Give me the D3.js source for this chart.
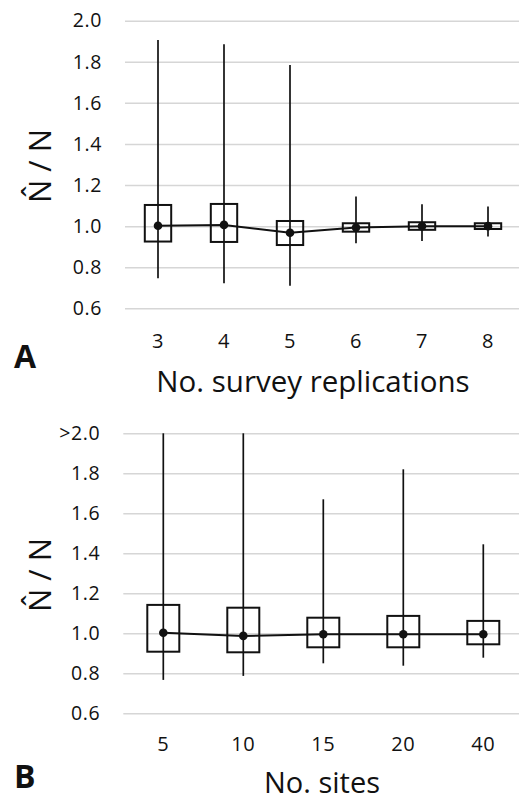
<!DOCTYPE html>
<html>
<head>
<meta charset="utf-8">
<script src="https://cdn.jsdelivr.net/npm/d3@7"></script>
<style>
  html, body { margin: 0; padding: 0; background: #fff; }
  svg { display: block; font-family: "Open Sans", sans-serif; }
</style>
</head>
<body>
<svg id="chart" width="519" height="802"></svg>
<script>
// ---- Data ----
const yTickValues = [0.6, 0.8, 1.0, 1.2, 1.4, 1.6, 1.8, 2.0];
const topYTickLabels = ["0.6", "0.8", "1.0", "1.2", "1.4", "1.6", "1.8", "2.0"];
const bottomYTickLabels = ["0.6", "0.8", "1.0", "1.2", "1.4", "1.6", "1.8", ">2.0"];

const topCategories = ["3", "4", "5", "6", "7", "8"];
const topMean = [1.002, 1.006, 0.968, 0.993, 1.0, 1.0];
const topBoxLow = [0.925, 0.923, 0.908, 0.973, 0.982, 0.986];
const topBoxHigh = [1.103, 1.108, 1.025, 1.014, 1.019, 1.014];
const topWhiskerLow = [0.746, 0.722, 0.710, 0.917, 0.928, 0.949];
const topWhiskerHigh = [1.906, 1.885, 1.784, 1.144, 1.107, 1.095];

const bottomCategories = ["5", "10", "15", "20", "40"];
const bottomMean = [1.003, 0.987, 0.995, 0.995, 0.995];
const bottomBoxLow = [0.908, 0.905, 0.930, 0.930, 0.945];
const bottomBoxHigh = [1.142, 1.128, 1.078, 1.087, 1.062];
const bottomWhiskerLow = [0.767, 0.787, 0.850, 0.838, 0.878];
const bottomWhiskerHigh = [2.0, 2.0, 1.67, 1.82, 1.445]; // 5 and 10 extend beyond 2.0

const svg = d3.select("#chart");

function panel(cfg) {
  const g = svg.append("g");
  const x = d3.scaleBand().domain(cfg.categories).range([cfg.x0, cfg.x1]).padding(0);
  const y = d3.scaleLinear().domain([0.6, 2.0]).range([cfg.y0, cfg.y1]).clamp(true);
  const w = cfg.x1 - cfg.x0;

  // gridlines + y tick labels
  const yAxis = d3.axisLeft(y).tickValues(yTickValues)
    .tickSize(-w).tickPadding(23)
    .tickFormat((d, i) => cfg.yLabels[i]);
  const ya = g.append("g").attr("transform", `translate(${cfg.x0},0)`).call(yAxis);
  ya.select(".domain").remove();
  ya.selectAll(".tick line").attr("stroke", "#d6d6d6").attr("stroke-width", 1.5);
  ya.selectAll(".tick text").attr("font-size", 19.5).attr("fill", "#111")
    .attr("font-family", "'Open Sans', sans-serif").attr("letter-spacing", 0.6);

  // x tick labels
  const xAxis = d3.axisBottom(x).tickSize(0).tickPadding(cfg.xPad);
  const xa = g.append("g").attr("transform", `translate(0,${cfg.y0})`).call(xAxis);
  xa.select(".domain").remove();
  xa.selectAll(".tick text").attr("font-size", 20).attr("fill", "#111")
    .attr("font-family", "'Open Sans', sans-serif").attr("letter-spacing", 0.6);

  const n = cfg.categories.length;
  const idx = d3.range(n);
  const cx = i => x(cfg.categories[i]) + x.bandwidth() / 2;
  const bw = x.bandwidth() * 0.4;

  // whiskers
  g.append("g").selectAll("line").data(idx).join("line")
    .attr("x1", cx).attr("x2", cx)
    .attr("y1", i => y(cfg.wHigh[i])).attr("y2", i => y(cfg.wLow[i]))
    .attr("stroke", "#111").attr("stroke-width", 1.7);

  // boxes
  g.append("g").selectAll("rect").data(idx).join("rect")
    .attr("x", i => cx(i) - bw / 2).attr("width", bw)
    .attr("y", i => y(cfg.bHigh[i])).attr("height", i => y(cfg.bLow[i]) - y(cfg.bHigh[i]))
    .attr("fill", "none").attr("stroke", "#111").attr("stroke-width", 2);

  // mean line
  const line = d3.line().x(i => cx(i)).y(i => y(cfg.mean[i]));
  g.append("path").datum(idx).attr("d", line)
    .attr("fill", "none").attr("stroke", "#111").attr("stroke-width", 2);

  // mean dots
  g.append("g").selectAll("circle").data(idx).join("circle")
    .attr("cx", cx).attr("cy", i => y(cfg.mean[i])).attr("r", 4.3).attr("fill", "#111");

  // y title
  g.append("text")
    .attr("transform", `translate(${cfg.ytX},${cfg.ytY}) rotate(-90)`)
    .attr("text-anchor", "middle").attr("font-size", 31).attr("fill", "#111")
    .text("N\u0302 / N");

  // x title
  g.append("text").attr("x", cfg.xtX).attr("y", cfg.xtY)
    .attr("text-anchor", "middle").attr("font-size", cfg.xtSize).attr("fill", "#111")
    .text(cfg.xTitle);

  // panel letter
  g.append("text").attr("x", 14).attr("y", cfg.letterY)
    .attr("font-size", 32).attr("font-weight", "bold").attr("fill", "#111")
    .text(cfg.letter);
}

panel({
  categories: topCategories, mean: topMean, bLow: topBoxLow, bHigh: topBoxHigh,
  wLow: topWhiskerLow, wHigh: topWhiskerHigh, yLabels: topYTickLabels,
  x0: 125, x1: 521, y0: 308.3, y1: 20.7, xPad: 26,
  ytX: 51, ytY: 166, xTitle: "No. survey replications", xtX: 313, xtY: 392, xtSize: 29.5,
  letter: "A", letterY: 368
});

panel({
  categories: bottomCategories, mean: bottomMean, bLow: bottomBoxLow, bHigh: bottomBoxHigh,
  wLow: bottomWhiskerLow, wHigh: bottomWhiskerHigh, yLabels: bottomYTickLabels,
  x0: 123.3, x1: 523.3, y0: 713.3, y1: 433.3, xPad: 24,
  ytX: 51, ytY: 575, xTitle: "No. sites", xtX: 322, xtY: 793, xtSize: 29,
  letter: "B", letterY: 788
});
</script>
</body>
</html>
